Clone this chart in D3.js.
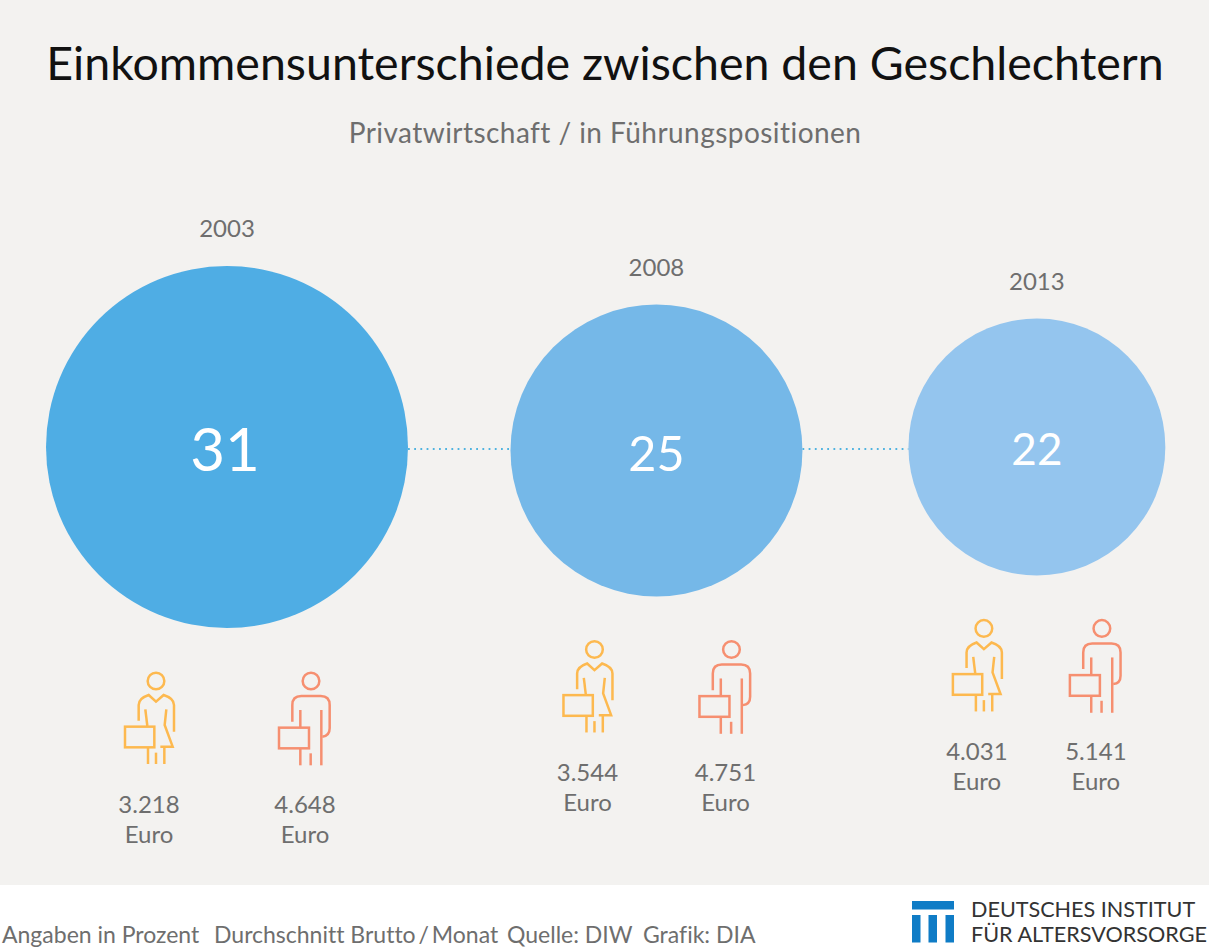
<!DOCTYPE html>
<html>
<head>
<meta charset="utf-8">
<script src="https://cdn.jsdelivr.net/npm/d3@7"></script>
<style>
  html, body { margin: 0; padding: 0; background: #fff; }
  svg { display: block; }
  text { font-family: Lato, "Open Sans", sans-serif; font-variant-ligatures: none; }
</style>
</head>
<body>
<svg width="1209" height="948"></svg>
<script>
const years = ['2003', '2008', '2013'];
const gapPercent = [31, 25, 22];
const womenEuro = ['3.218', '3.544', '4.031'];
const menEuro = ['4.648', '4.751', '5.141'];

const titleText = 'Einkommensunterschiede zwischen den Geschlechtern';
const subtitleText = 'Privatwirtschaft / in Führungspositionen';
const footerNotes = ['Angaben in Prozent', 'Durchschnitt Brutto\u2009/\u2009Monat', 'Quelle: DIW', 'Grafik: DIA'];

// layout, kept apart from the values
const circleColors = ['#4fade4', '#75b8e8', '#94c5ee'];
const centerY = [447, 450.5, 447];
const gapsX = [102.5, 106];
const womanOffset = [-71, -62, -53];
const manOffset = [84, 75, 65];
const numberSize = [60, 48.5, 44];
const numberDy = [24, 20.5, 18];
const footerX = [2, 214, 507, 643];
const background = '#f3f2f0';

const svg = d3.select('svg');
svg.append('rect').attr('width', 1209).attr('height', 885).attr('fill', background);

// radius is linear in the percentage
const rScale = d3.scaleLinear().domain([0, 31]).range([0, 181]);

// circles sit next to each other, left to right
let cursor = 46;
const centers = gapPercent.map((v, i) => {
    const cx = cursor + rScale(v);
    cursor += 2 * rScale(v) + (gapsX[i] || 0);
    return cx;
});

svg.append('text').attr('x', 605).attr('y', 80).attr('text-anchor', 'middle')
    .attr('font-size', 46.5).attr('fill', '#111').text(titleText);
svg.append('text').attr('x', 605).attr('y', 143).attr('text-anchor', 'middle')
    .attr('font-size', 28).attr('letter-spacing', 0.45).attr('fill', '#6e6e6e').text(subtitleText);

// dotted connectors
d3.range(gapPercent.length - 1).forEach((i) => {
    svg.append('line')
        .attr('x1', centers[i] + rScale(gapPercent[i]))
        .attr('x2', centers[i + 1] - rScale(gapPercent[i + 1]))
        .attr('y1', 449).attr('y2', 449)
        .attr('stroke', '#4fb3e0').attr('stroke-width', 1.8)
        .attr('stroke-dasharray', '1.8 4.4');
});

const groups = svg.selectAll('g.year').data(years).join('g').attr('class', 'year');

groups.append('circle')
    .attr('cx', (d, i) => centers[i])
    .attr('cy', (d, i) => centerY[i])
    .attr('r', (d, i) => rScale(gapPercent[i]))
    .attr('fill', (d, i) => circleColors[i]);

groups.append('text')
    .attr('x', (d, i) => centers[i])
    .attr('y', (d, i) => centerY[i] - rScale(gapPercent[i]) - 29)
    .attr('text-anchor', 'middle').attr('font-size', 24).attr('fill', '#6e6e6e')
    .text((d) => d);

groups.append('text')
    .attr('x', (d, i) => centers[i] - (i === 0 ? 2 : 0))
    .attr('y', (d, i) => centerY[i] + numberDy[i])
    .attr('text-anchor', 'middle').attr('fill', '#fff')
    .attr('font-size', (d, i) => numberSize[i])
    .text((d, i) => gapPercent[i]);

// icons are drawn around the head centre, in zoomed units
function drawWoman(g) {
    const s = g.append('g').attr('transform', 'scale(0.3333)')
        .attr('fill', 'none').attr('stroke', '#fdb94f').attr('stroke-width', 7.5);
    s.append('circle').attr('r', 25);
    [
        'M-52,119 V72 Q-52,52 -22,42 L0,62 L23,42 Q54,52 54,72 V152',
        'M-32,85 L-26,135',
        'M31,85 L26,132 L50,197 H13',
        'M-24,199 V249', 'M0,215 V249', 'M25,199 V249'
    ].forEach((p) => s.append('path').attr('d', p));
    s.append('rect').attr('x', -93).attr('y', 137).attr('width', 88).attr('height', 62)
        .attr('fill', background);
}

function drawMan(g) {
    const s = g.append('g').attr('transform', 'scale(0.3333)')
        .attr('fill', 'none').attr('stroke', '#f68f70').attr('stroke-width', 7.5);
    s.append('circle').attr('r', 25);
    [
        'M-56,122 V72 Q-56,45 -29,45 H29 Q56,45 56,72 V142 Q56,165 34,167',
        'M-32,87 V253', 'M31,87 V253', 'M-1,217 V253'
    ].forEach((p) => s.append('path').attr('d', p));
    s.append('rect').attr('x', -96).attr('y', 140).attr('width', 90).attr('height', 62)
        .attr('fill', background);
}

function euroLabel(g, x, y, value) {
    g.append('text').attr('x', x).attr('y', y).attr('text-anchor', 'middle')
        .attr('font-size', 24).attr('fill', '#6e6e6e').text(value);
    g.append('text').attr('x', x).attr('y', y + 30).attr('text-anchor', 'middle')
        .attr('font-size', 24).attr('fill', '#6e6e6e').text('Euro');
}

years.forEach((y, i) => {
    const g = d3.select(groups.nodes()[i]);
    const headY = centerY[i] + rScale(gapPercent[i]) + 53;
    const wx = centers[i] + womanOffset[i];
    const mx = centers[i] + manOffset[i];
    drawWoman(g.append('g').attr('transform', `translate(${wx},${headY})`));
    drawMan(g.append('g').attr('transform', `translate(${mx},${headY})`));
    euroLabel(g, wx - 7, headY + 132, womenEuro[i]);
    euroLabel(g, mx - 6, headY + 132, menEuro[i]);
});

// footer
svg.selectAll('text.note').data(footerNotes).join('text').attr('class', 'note')
    .attr('x', (d, i) => footerX[i]).attr('y', 943)
    .attr('font-size', 23).attr('fill', '#6e6e6e').text((d) => d);

// logo
const logo = svg.append('g').attr('fill', '#0f7cc6');
logo.append('rect').attr('x', 912).attr('y', 901).attr('width', 42).attr('height', 8.5);
[912, 928.5, 945.5].forEach((x) => {
    logo.append('rect').attr('x', x).attr('y', 915).attr('width', 8.5).attr('height', 27.5);
});
svg.append('text').attr('x', 971).attr('y', 917).attr('font-size', 21.6).attr('fill', '#333').text('DEUTSCHES INSTITUT');
svg.append('text').attr('x', 971).attr('y', 942).attr('font-size', 21.6).attr('fill', '#333').text('FÜR ALTERSVORSORGE');
</script>
</body>
</html>
